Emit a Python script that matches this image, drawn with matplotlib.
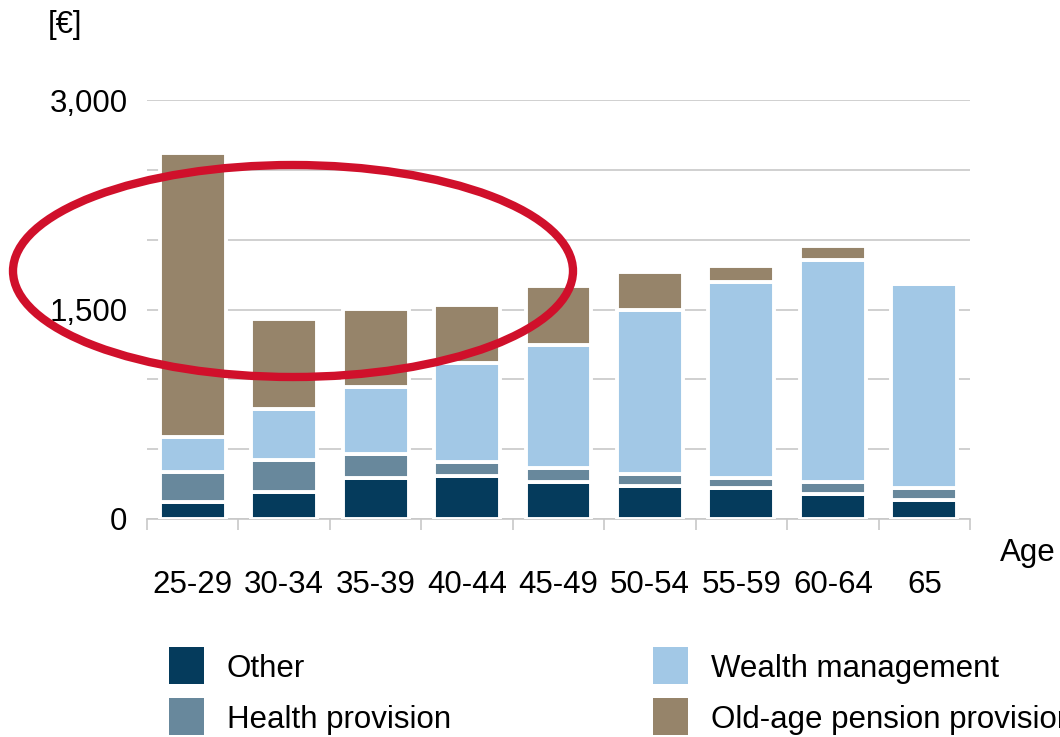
import matplotlib
matplotlib.use("Agg")
import matplotlib.pyplot as plt
import numpy as np
from matplotlib.patches import Ellipse, Rectangle

plt.rcParams['font.family'] = ['Liberation Sans', 'DejaVu Sans']

ages = ['25-29', '30-34', '35-39', '40-44', '45-49', '50-54', '55-59', '60-64', '65']
other = [120, 193, 294, 308, 265, 236, 222, 179, 136]
health = [215, 230, 172, 100, 100, 86, 72, 86, 86]
wealth = [250, 365, 480, 709, 881, 1175, 1404, 1590, 1461]
pension = [2035, 645, 558, 416, 423, 272, 114, 100, 0]

series = [('Other', other, '#053b5c'),
          ('Health provision', health, '#68889c'),
          ('Wealth management', wealth, '#a2c8e6'),
          ('Old-age pension provision', pension, '#96846a')]

fig = plt.figure(figsize=(10.6, 7.37), dpi=100)
ax = fig.add_axes([147/1060, 1-519/737, 823/1060, 419/737])

x = np.arange(len(ages))
bottom = np.zeros(len(ages))
for name, vals, col in series:
    vals = np.array(vals, dtype=float)
    ax.bar(x, vals, 0.72, bottom=bottom, color=col, edgecolor='white',
           linewidth=2.8, zorder=3)
    bottom += vals

ax.set_xlim(-0.5, len(ages) - 0.5)
ax.set_ylim(0, 3000)
ax.set_yticks([0, 500, 1000, 1500, 2000, 2500, 3000])
ax.set_yticklabels(['0', '', '', '1,500', '', '', '3,000'])
ax.yaxis.grid(True, color='#c8c8c8', linewidth=1.2, zorder=0)
ax.tick_params(axis='y', length=0, pad=14, labelsize=22.5)

ax.set_xticks(x)
ax.set_xticklabels(ages)
ax.set_xticks(np.arange(len(ages) + 1) - 0.5, minor=True)
ax.tick_params(axis='x', which='major', length=0, pad=37, labelsize=22.5)
ax.tick_params(axis='x', which='minor', length=8, width=1.2, color='#c8c8c8')

for s in ['top', 'right', 'left']:
    ax.spines[s].set_visible(False)
ax.spines['bottom'].set_color('#c8c8c8')
ax.spines['bottom'].set_linewidth(1.2)

fig.text(48/1060, 1-25/737, '[€]', fontsize=22.5, va='center', ha='left')
fig.text(1000/1060, 1-553/737, 'Age', fontsize=22.5, va='center', ha='left')

# legend (last label runs off the right edge, as in the original)
legend_pos = [(169, 666), (169, 717), (653, 666), (653, 717)]
for (name, vals, col), (lx, ly) in zip(series, legend_pos):
    fig.patches.append(Rectangle((lx/1060, 1-(ly+18)/737), 35/1060, 37/737,
                                 transform=fig.transFigure, facecolor=col,
                                 edgecolor='none'))
    fig.text((lx+58)/1060, 1-(ly+3)/737, name, fontsize=22.5, va='center', ha='left')

# red highlight ellipse
fig.patches.append(Ellipse((293/1060, 1-271/737), 560/1060, 212/737,
                           transform=fig.transFigure, fill=False,
                           edgecolor='#d0102b', linewidth=6, zorder=10))

plt.savefig('out.png', dpi=100)
